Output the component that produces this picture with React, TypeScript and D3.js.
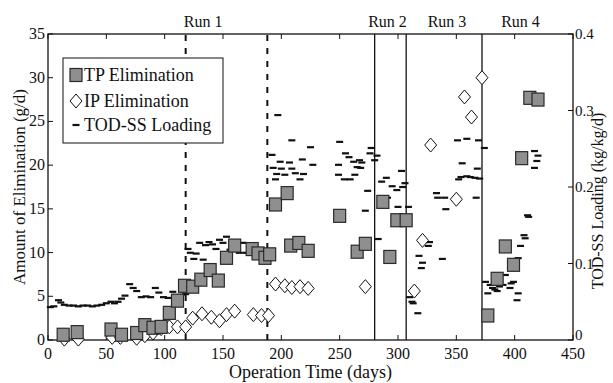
import React, { useEffect, useRef } from 'react'
import * as d3 from 'd3'

// [day, g/d]
const tpElimination: [number, number][] = [
  [13, 0.6], [25, 0.9], [54, 1.2], [63, 0.6], [76, 0.8], [83, 1.7], [90, 1.4], [97, 1.5],
  [104, 3.1], [111, 4.5], [117, 6.2], [124, 6.1], [131, 6.9], [139, 8.0], [146, 6.8],
  [153, 9.4], [160, 10.8], [175, 10.4], [180, 9.9], [186, 9.4], [190, 9.8], [195, 15.5],
  [205, 16.8], [208, 10.8], [215, 11.1], [223, 10.2], [250, 14.2], [265, 10.1], [272, 11.0],
  [287, 15.8], [293, 9.5], [299, 13.7], [307, 13.7], [377, 2.8], [385, 7.0], [392, 10.7],
  [399, 8.6], [406, 20.8], [413, 27.7], [420, 27.5],
]

const ipElimination: [number, number][] = [
  [14, 0.1], [26, 0.1], [55, 0.3], [62, 0.3], [76, 0.2], [83, 0.5], [90, 0.8], [97, 1.3],
  [104, 1.5], [111, 1.5], [118, 1.5], [124, 2.5], [132, 3.0], [140, 2.6], [147, 2.2],
  [153, 2.9], [160, 3.3], [176, 2.9], [183, 2.8], [189, 2.8], [195, 6.4], [203, 6.2],
  [209, 6.0], [216, 6.1], [223, 5.9], [272, 6.1], [314, 5.6], [321, 11.4], [328, 22.3],
  [350, 16.1], [357, 27.8], [363, 25.5], [372, 30.0],
]

// [day, kg/kg/d]
const todLoading: [number, number][] = [
  [2, 0.043], [5, 0.044], [9, 0.052], [11, 0.049], [14, 0.046], [18, 0.045], [22, 0.045],
  [26, 0.044], [30, 0.045], [34, 0.045], [38, 0.044], [42, 0.045], [46, 0.046], [50, 0.048],
  [54, 0.050], [57, 0.048], [60, 0.050], [63, 0.054], [66, 0.058], [70, 0.073], [73, 0.068],
  [76, 0.064], [80, 0.056], [84, 0.057], [88, 0.056], [92, 0.068], [95, 0.062], [99, 0.056],
  [103, 0.055], [107, 0.063], [110, 0.058], [114, 0.059], [118, 0.060],
  [120, 0.119], [122, 0.114], [125, 0.106], [127, 0.113], [130, 0.127], [133, 0.105],
  [135, 0.124], [138, 0.128], [141, 0.125], [144, 0.119], [147, 0.131], [150, 0.127],
  [153, 0.135], [156, 0.118], [159, 0.122], [162, 0.127], [164, 0.114], [167, 0.127],
  [170, 0.114], [173, 0.116], [176, 0.113], [180, 0.114], [184, 0.112], [187, 0.113],
  [192, 0.242], [193, 0.225], [195, 0.210], [196, 0.217], [197, 0.294], [199, 0.233],
  [200, 0.224], [203, 0.216], [207, 0.232], [209, 0.261], [209, 0.224], [212, 0.218],
  [216, 0.210], [218, 0.236], [219, 0.217], [225, 0.252], [227, 0.229], [249, 0.229],
  [249, 0.216], [250, 0.259], [254, 0.210], [255, 0.244], [258, 0.239], [259, 0.210],
  [262, 0.233], [263, 0.216], [265, 0.226], [267, 0.235], [268, 0.225], [269, 0.232],
  [272, 0.169], [274, 0.195], [276, 0.244], [277, 0.251],
  [280, 0.235], [282, 0.241], [283, 0.132], [286, 0.207], [290, 0.212], [291, 0.186],
  [295, 0.201], [299, 0.196], [300, 0.174], [303, 0.221], [304, 0.200], [306, 0.205],
  [309, 0.174],
  [310, 0.056], [312, 0.050], [313, 0.048], [317, 0.035], [318, 0.110], [320, 0.094],
  [321, 0.101], [326, 0.123], [327, 0.128], [333, 0.192], [334, 0.186], [338, 0.106],
  [340, 0.186], [341, 0.171], [351, 0.261], [352, 0.210], [354, 0.213], [355, 0.231],
  [359, 0.263], [359, 0.214], [362, 0.213], [366, 0.212], [367, 0.186], [368, 0.224],
  [369, 0.261], [370, 0.211],
  [374, 0.251], [375, 0.076], [377, 0.061], [379, 0.072], [381, 0.068], [383, 0.066],
  [385, 0.064], [387, 0.070], [390, 0.072], [392, 0.085], [396, 0.068], [397, 0.074],
  [399, 0.076], [402, 0.052], [403, 0.061], [403, 0.107], [405, 0.123], [408, 0.137],
  [409, 0.133], [411, 0.163], [412, 0.161], [417, 0.247], [417, 0.225], [419, 0.234],
  [420, 0.241],
]

const dashedRuns = [118, 188]
const solidRuns = [280, 307, 372]
const runLabels: [string, number][] = [['Run 1', 133], ['Run 2', 291], ['Run 3', 342], ['Run 4', 405]]

const xTicks = [0, 50, 100, 150, 200, 250, 300, 350, 400, 450]
const leftTicks = [0, 5, 10, 15, 20, 25, 30, 35]
const rightTicks = [0, 0.1, 0.2, 0.3, 0.4]

const W = 613
const H = 383
const FONT = "'Liberation Serif', 'Times New Roman', Times, serif"

export default function App() {
  const svgRef = useRef<SVGSVGElement>(null)

  useEffect(() => {
    const svg = d3.select(svgRef.current)
    svg.selectAll('*').remove()

    const margin = { top: 34, right: 40, bottom: 43, left: 48 }
    const x = d3.scaleLinear().domain([0, 450]).range([margin.left, W - margin.right])
    const yL = d3.scaleLinear().domain([0, 35]).range([H - margin.bottom, margin.top])
    const yR = d3.scaleLinear().domain([0, 0.4]).range([H - margin.bottom, margin.top])
    const x0 = margin.left, x1 = W - margin.right, y0 = H - margin.bottom, y1 = margin.top

    svg.append('rect').attr('width', W).attr('height', H).attr('fill', '#fff')

    // run separators
    dashedRuns.forEach(d => {
      svg.append('line')
        .attr('x1', x(d)).attr('x2', x(d)).attr('y1', y0).attr('y2', y1)
        .attr('stroke', '#111').attr('stroke-width', 2).attr('stroke-dasharray', '6,7')
    })
    solidRuns.forEach(d => {
      svg.append('line')
        .attr('x1', x(d)).attr('x2', x(d)).attr('y1', y0).attr('y2', y1)
        .attr('stroke', '#111').attr('stroke-width', 1.3)
    })

    // frame + inward ticks
    svg.append('rect')
      .attr('x', x0).attr('y', y1).attr('width', x1 - x0).attr('height', y0 - y1)
      .attr('fill', 'none').attr('stroke', '#111').attr('stroke-width', 1.3)

    const tickLen = 5
    const ticks = svg.append('g').attr('stroke', '#111').attr('stroke-width', 1)
    xTicks.forEach(t => {
      ticks.append('line').attr('x1', x(t)).attr('x2', x(t)).attr('y1', y0).attr('y2', y0 - tickLen)
      ticks.append('line').attr('x1', x(t)).attr('x2', x(t)).attr('y1', y1).attr('y2', y1 + tickLen)
    })
    leftTicks.forEach(t => {
      ticks.append('line').attr('x1', x0).attr('x2', x0 + tickLen).attr('y1', yL(t)).attr('y2', yL(t))
    })
    rightTicks.forEach(t => {
      ticks.append('line').attr('x1', x1).attr('x2', x1 - tickLen).attr('y1', yR(t)).attr('y2', yR(t))
    })

    const labels = svg.append('g').style('font-family', FONT).attr('fill', '#111')
    xTicks.forEach(t => {
      labels.append('text').attr('x', x(t)).attr('y', y0 + 19)
        .attr('text-anchor', 'middle').style('font-size', '16px').text(t)
    })
    leftTicks.forEach(t => {
      labels.append('text').attr('x', x0 - 3).attr('y', yL(t) + 5)
        .attr('text-anchor', 'end').style('font-size', '16px').text(t)
    })
    rightTicks.forEach(t => {
      labels.append('text').attr('x', x1 + 2).attr('y', yR(t) + (t === 0 ? 0 : 5))
        .attr('text-anchor', 'start').style('font-size', '15px').text(t === 0 ? '0' : t.toFixed(1))
    })

    labels.append('text').attr('x', (x0 + x1) / 2).attr('y', 378)
      .attr('text-anchor', 'middle').style('font-size', '18px').text('Operation Time (days)')
    labels.append('text')
      .attr('transform', `translate(25,${(y0 + y1) / 2}) rotate(-90)`)
      .attr('text-anchor', 'middle').style('font-size', '17px').text('Amount of Elimination (g/d)')
    labels.append('text')
      .attr('transform', `translate(603,${(y0 + y1) / 2 + 14}) rotate(-90)`)
      .attr('text-anchor', 'middle').style('font-size', '16px').text('TOD-SS Loading (kg/kg/d)')

    runLabels.forEach(([name, d]) => {
      labels.append('text').attr('x', x(d)).attr('y', 27)
        .attr('text-anchor', 'middle').style('font-size', '16px').text(name)
    })

    // markers
    const square = (g: any, cx: number, cy: number) => {
      g.append('rect')
        .attr('x', cx - 6).attr('y', cy - 6.5).attr('width', 12).attr('height', 13)
        .attr('fill', '#8f8f8f').attr('stroke', '#2a2a2a').attr('stroke-width', 1.2)
    }
    const diamond = (g: any, cx: number, cy: number) => {
      g.append('path')
        .attr('d', `M${cx},${cy - 7}L${cx + 6},${cy}L${cx},${cy + 7}L${cx - 6},${cy}Z`)
        .attr('fill', '#fff').attr('stroke', '#111').attr('stroke-width', 1)
    }
    const dash = (g: any, cx: number, cy: number) => {
      g.append('rect')
        .attr('x', cx - 3.5).attr('y', cy - 1.1).attr('width', 7).attr('height', 2.2)
        .attr('fill', '#111')
    }

    const marks = svg.append('g')
    todLoading.forEach(([d, v]) => dash(marks, x(d), yR(v)))
    ipElimination.forEach(([d, v]) => diamond(marks, x(d), yL(v)))
    tpElimination.forEach(([d, v]) => square(marks, x(d), yL(v)))

    // legend
    const lg = svg.append('g')
    lg.append('rect').attr('x', 63).attr('y', 58).attr('width', 160).attr('height', 85)
      .attr('fill', '#fff').attr('stroke', '#111').attr('stroke-width', 1)
    square(lg, 76, 75)
    diamond(lg, 76, 101)
    dash(lg, 76, 125)
    const lt = lg.append('g').style('font-family', FONT).style('font-size', '18px').attr('fill', '#111')
    lt.append('text').attr('x', 84).attr('y', 81).text('TP Elimination')
    lt.append('text').attr('x', 84).attr('y', 107).text('IP Elimination')
    lt.append('text').attr('x', 84).attr('y', 131).text('TOD-SS Loading')
  }, [])

  return (
    <svg
      ref={svgRef}
      width={W}
      height={H}
      style={{ position: 'absolute', left: 0, top: 0, display: 'block' }}
    />
  )
}
